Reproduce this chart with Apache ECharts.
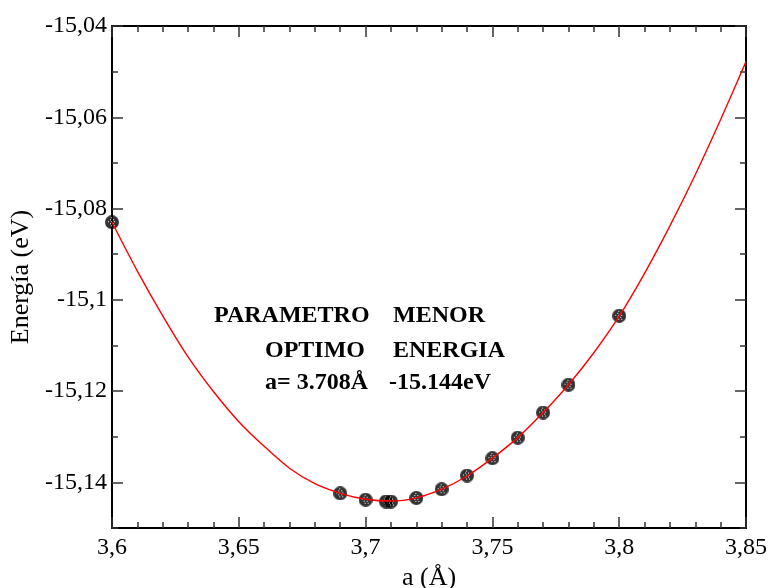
<!DOCTYPE html>
<html>
<head>
<meta charset="utf-8">
<script src="https://cdn.jsdelivr.net/npm/echarts@6/dist/echarts.min.js"></script>
<style>
html,body{margin:0;padding:0;background:#fff;}
#chart{width:770px;height:588px;}
</style>
</head>
<body>
<div id="chart"></div>
<script>
// Measured points (lattice parameter a in Å, energy in eV)
const aValues = [3.60, 3.69, 3.70, 3.708, 3.71, 3.72, 3.73, 3.74, 3.75, 3.76, 3.77, 3.78, 3.80];
const energyValues = [-15.0830, -15.1424, -15.1438, -15.1442, -15.1442, -15.1434, -15.1415, -15.1385, -15.1347, -15.1302, -15.1247, -15.1186, -15.1035];

// Fitted curve
const fitA = [3.60, 3.61, 3.62, 3.63, 3.64, 3.65, 3.66, 3.67, 3.68, 3.69, 3.70, 3.71, 3.72, 3.73, 3.74, 3.75, 3.76, 3.77, 3.78, 3.79, 3.80, 3.81, 3.82, 3.83, 3.84, 3.85];
const fitE = [-15.0830, -15.0937, -15.1035, -15.1125, -15.1201, -15.1267, -15.1321, -15.1369, -15.1403, -15.1424, -15.1437, -15.1441, -15.1434, -15.1415, -15.1386, -15.1347, -15.1302, -15.1247, -15.1186, -15.1116, -15.1036, -15.0942, -15.0838, -15.0726, -15.0605, -15.0478];

const yMajorTicks = [-15.14, -15.12, -15.10, -15.08, -15.06, -15.04];
const xMajorTicks = [3.60, 3.65, 3.70, 3.75, 3.80, 3.85];

const annotation = [
  ['PARAMETRO', 'MENOR'],
  ['OPTIMO', 'ENERGIA'],
  ['a= 3.708Å', '-15.144eV']
];

function fmt(v) {
  return String(parseFloat(v.toFixed(2))).replace('.', ',');
}

// dotted circle marker drawn as an image symbol
function makeMarker() {
  const s = 14;
  const c = document.createElement('canvas');
  c.width = s; c.height = s;
  const g = c.getContext('2d');
  g.fillStyle = '#000';
  g.beginPath(); g.arc(s / 2, s / 2, s / 2, 0, Math.PI * 2); g.fill();
  g.fillStyle = '#fff';
  for (let yy = 2; yy < s; yy += 2) {
    for (let xx = 2 + ((yy / 2) % 2); xx < s; xx += 3) {
      const dx = xx + 0.5 - s / 2, dy = yy + 0.5 - s / 2;
      if (dx * dx + dy * dy < 22) g.fillRect(xx, yy, 1, 1);
    }
  }
  return c.toDataURL();
}
const markerURL = makeMarker();

const chart = echarts.init(document.getElementById('chart'), null, {renderer: 'canvas'});
const FONT = '"Liberation Serif", "Times New Roman", serif';
const line = {show: true, lineStyle: {color: '#000', width: 2}};
const grid = {left: 112, right: 24, top: 26, bottom: 60, containLabel: false, outerBoundsMode: 'none'};

const xBase = {type: 'value', min: 3.6, max: 3.85, splitLine: {show: false}};
const yBase = {type: 'value', min: -15.15, max: -15.04, splitLine: {show: false}};
const minorTick = {show: true, inside: true, length: 6, lineStyle: {color: '#333', width: 1.5}};
const majorTick = (vals) => ({show: true, inside: true, length: 11, customValues: vals, lineStyle: {color: '#333', width: 1.5}});

const option = {
  animation: false,
  backgroundColor: '#fff',
  grid: grid,
  xAxis: [
    Object.assign({}, xBase, {
      position: 'bottom', interval: 0.01,
      axisLine: line,
      axisTick: minorTick,
      axisLabel: {
        color: '#000', fontFamily: FONT, fontSize: 24, margin: 8,
        formatter: function (v) { return Math.round(v * 100) % 5 === 0 ? fmt(v) : ''; }
      },
      name: 'a (Å)', nameLocation: 'middle', nameGap: 35,
      nameTextStyle: {color: '#000', fontFamily: FONT, fontSize: 26}
    }),
    Object.assign({}, xBase, {
      position: 'bottom', axisLine: {show: false}, axisLabel: {show: false},
      axisTick: majorTick(xMajorTicks)
    }),
    Object.assign({}, xBase, {
      position: 'top', interval: 0.01, axisLine: line, axisLabel: {show: false},
      axisTick: minorTick
    }),
    Object.assign({}, xBase, {
      position: 'top', axisLine: {show: false}, axisLabel: {show: false},
      axisTick: majorTick(xMajorTicks)
    })
  ],
  yAxis: [
    Object.assign({}, yBase, {
      position: 'left', interval: 0.01,
      axisLine: line,
      axisTick: minorTick,
      axisLabel: {
        color: '#000', fontFamily: FONT, fontSize: 24, margin: 5,
        formatter: function (v) { return Math.round(v * 100) % 2 === 0 ? fmt(v) : ''; }
      },
      name: 'Energía (eV)', nameLocation: 'middle', nameGap: 71, nameRotate: 90,
      nameTextStyle: {color: '#000', fontFamily: FONT, fontSize: 26}
    }),
    Object.assign({}, yBase, {
      position: 'left', axisLine: {show: false}, axisLabel: {show: false},
      axisTick: majorTick(yMajorTicks)
    }),
    Object.assign({}, yBase, {
      position: 'right', interval: 0.01, axisLine: line, axisLabel: {show: false},
      axisTick: minorTick
    }),
    Object.assign({}, yBase, {
      position: 'right', axisLine: {show: false}, axisLabel: {show: false},
      axisTick: majorTick(yMajorTicks)
    })
  ],
  series: [
    {
      type: 'scatter', xAxisIndex: 0, yAxisIndex: 0,
      data: aValues.map((a, i) => [a, energyValues[i]]),
      symbol: 'image://' + markerURL, symbolSize: 14,
      z: 2
    },
    {
      type: 'line', xAxisIndex: 0, yAxisIndex: 0,
      data: fitA.map((a, i) => [a, fitE[i]]),
      smooth: 0.3, showSymbol: false, symbol: 'none',
      lineStyle: {color: '#ff0000', width: 1.4},
      z: 3
    }
  ],
  graphic: annotation.map(function (row, i) {
    const xs = [[214, 393], [265, 393], [265, 389]][i];
    const y = [304, 339, 371][i];
    return {
      type: 'group', children: [
        {type: 'text', left: xs[0], top: y, style: {text: row[0], font: 'bold 24px ' + FONT, fill: '#000'}},
        {type: 'text', left: xs[1], top: y, style: {text: row[1], font: 'bold 24px ' + FONT, fill: '#000'}}
      ]
    };
  })
};
chart.setOption(option);
</script>
</body>
</html>
